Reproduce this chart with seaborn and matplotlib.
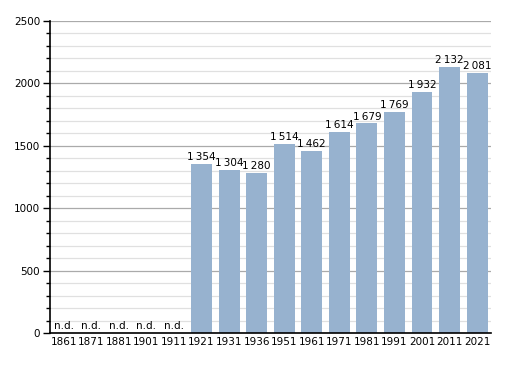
import numpy as np
import pandas as pd
import seaborn as sns
import matplotlib.pyplot as plt
from matplotlib.ticker import MultipleLocator

years = ['1861', '1871', '1881', '1901', '1911', '1921', '1931', '1936',
         '1951', '1961', '1971', '1981', '1991', '2001', '2011', '2021']
population = [np.nan, np.nan, np.nan, np.nan, np.nan, 1354, 1304, 1280,
              1514, 1462, 1614, 1679, 1769, 1932, 2132, 2081]

df = pd.DataFrame({'year': years, 'pop': population})

sns.set_style('white')
plt.rcParams['font.family'] = ['DejaVu Sans']
plt.rcParams['text.color'] = 'black'
plt.rcParams['xtick.color'] = 'black'
plt.rcParams['ytick.color'] = 'black'

fig = plt.figure(figsize=(5.2, 3.73), dpi=100)
ax = fig.add_axes([0.096, 0.107, 0.848, 0.837])

sns.barplot(data=df, x='year', y='pop', order=years, color='#97b2cf',
            saturation=1, width=0.76, linewidth=0, ax=ax)
for p in ax.patches:
    p.set_zorder(3)

ax.set_ylim(0, 2500)
ax.set_xlim(-0.5, len(years) - 0.5)
ax.yaxis.set_major_locator(MultipleLocator(500))
ax.yaxis.set_minor_locator(MultipleLocator(100))
ax.grid(axis='y', which='major', color='#aaaaaa', linewidth=0.9)
ax.grid(axis='y', which='minor', color='#e0e0e0', linewidth=0.9)
ax.set_axisbelow(True)

for s in ['top', 'right']:
    ax.spines[s].set_visible(False)
for s in ['left', 'bottom']:
    ax.spines[s].set_color('black')
    ax.spines[s].set_linewidth(1.2)
    ax.spines[s].set_zorder(5)

ax.tick_params(axis='y', which='major', length=5, width=1, color='black',
               labelcolor='black', labelsize=7.5, left=True, pad=2)
ax.tick_params(axis='y', which='minor', length=3, width=1, color='black', left=True)
ax.tick_params(axis='x', length=0, labelsize=7.5, labelcolor='black', pad=3)
ax.set_xlabel('')
ax.set_ylabel('')

for i, v in enumerate(population):
    if np.isnan(v):
        ax.text(i, 15, 'n.d.', ha='center', va='bottom', fontsize=7.5,
                color='black', zorder=4)
    else:
        s = f'{int(v):,}'.replace(',', '\u2009')
        ax.text(i, v + 15, s, ha='center', va='bottom', fontsize=7.5,
                color='black', zorder=4)

fig.savefig('out.png', dpi=100)
